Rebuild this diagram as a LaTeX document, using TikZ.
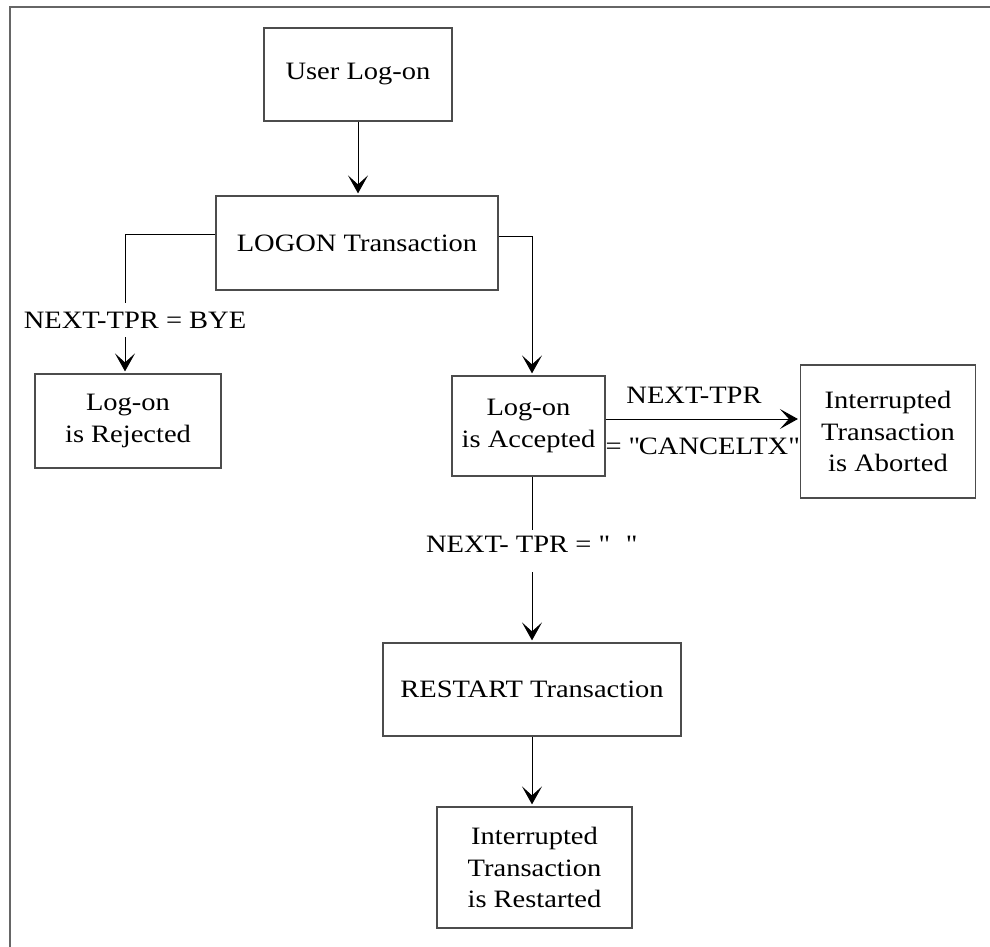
\documentclass[tikz,border=0pt]{standalone}
\usepackage{fontspec}
\setmainfont{Liberation Serif}[FakeStretch=1.14]
\usetikzlibrary{arrows.meta}
\tikzset{
  box/.style={draw=black!70, line width=1.2pt, align=center, inner sep=0pt},
  lbl/.style={inner sep=0pt, align=center},
  wire/.style={draw=black, line width=1pt},
  flow/.style={wire, shorten >=2pt, -{Stealth[length=18pt,width=20pt,inset=9pt,line width=1pt]}},
  frame/.style={draw=black!60, line width=1.5pt}
}

\begin{document}
\begin{tikzpicture}[x=1pt,y=-1pt,font=\fontsize{25}{31.5}\selectfont]
\useasboundingbox (0,0) rectangle (990,947);
% Drawing frame
\draw[frame] (10,947) -- (10,7) -- (990,7);
% Drawing boxes
\node[box, minimum width=188pt, minimum height=93pt] (user) at (358,74.5) {User Log-on};
\node[box, minimum width=282pt, minimum height=94pt] (logon) at (357,243) {LOGON Transaction};
\node[box, minimum width=186pt, minimum height=94pt] (rejected) at (128,421) {Log-on\\is Rejected};
\node[box, minimum width=153pt, minimum height=100pt] (accepted) at (528.5,426) {Log-on\\is Accepted};
\node[box, minimum width=175pt, minimum height=133pt] (aborted) at (888,431.5) {Interrupted\\Transaction\\is Aborted};
\node[box, minimum width=298pt, minimum height=93pt] (restart) at (532,689.5) {RESTART Transaction};
\node[box, minimum width=195pt, minimum height=121pt] (restarted) at (534.5,867.5) {Interrupted\\Transaction\\is Restarted};
% Done with boxes; drawing labels
\node[lbl, minimum height=34pt] (byelbl) at (135,320) {NEXT-TPR = BYE};
\node[lbl] (cxtop) at (694,395) {NEXT-TPR};
\node[lbl] (cxbot) at (702,446) {= \textquotedbl CANCELTX\textquotedbl};
\node[lbl] (blanklbl) at (531,544) {NEXT- TPR = \textquotedbl\hspace{17pt}\textquotedbl};
\coordinate (lturn) at (125,234);
\coordinate (rturn) at (532,236);
\coordinate (blanktop) at (532,530);
\coordinate (blankbot) at (532,572);
% Done with labels; drawing connectors
\draw[flow] (user.south) -- (user.south |- logon.north);
\draw[wire] (logon.west |- lturn) -- (lturn) -- (lturn |- byelbl.north);
\draw[flow] (lturn |- byelbl.south) -- (lturn |- rejected.north);
\draw[flow] (logon.east |- rturn) -- (rturn) -- (rturn |- accepted.north);
\draw[flow] ([yshift=7pt]accepted.east) -- ([yshift=7pt]accepted.east -| aborted.west);
\draw[wire] (blanktop |- accepted.south) -- (blanktop);
\draw[flow] (blankbot) -- (blankbot |- restart.north);
\draw[flow] (restart.south) -- (restart.south |- restarted.north);
% Done with connectors
\end{tikzpicture}
\end{document}
